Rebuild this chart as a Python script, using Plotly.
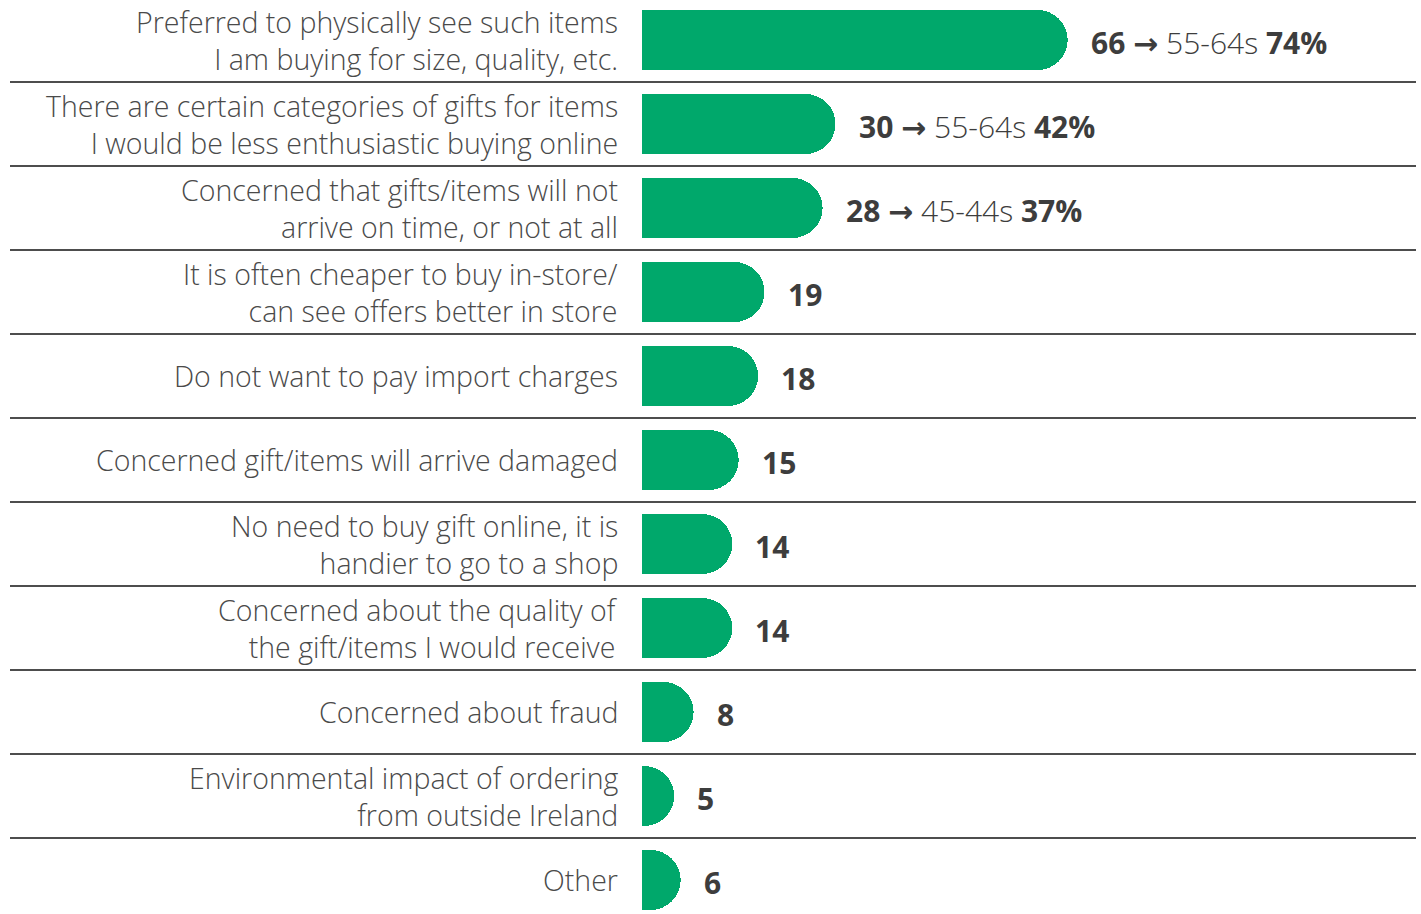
import plotly.graph_objects as go

categories = [
    "Preferred to physically see such items<br>I am buying for size, quality, etc.",
    "There are certain categories of gifts for items<br>I would be less enthusiastic buying online",
    "Concerned that gifts/items will not<br>arrive on time, or not at all",
    "It is often cheaper to buy in-store/<br>can see offers better in store",
    "Do not want to pay import charges",
    "Concerned gift/items will arrive damaged",
    "No need to buy gift online, it is<br>handier to go to a shop",
    "Concerned about the quality of<br>the gift/items I would receive",
    "Concerned about fraud",
    "Environmental impact of ordering<br>from outside Ireland",
    "Other",
]
values = [66, 30, 28, 19, 18, 15, 14, 14, 8, 5, 6]
age_groups = ["55-64s", "55-64s", "45-44s", None, None, None, None, None, None, None, None]
age_pcts = [74, 42, 37, None, None, None, None, None, None, None, None]

GREEN = "#00A86B"
TEXT = "#4a4a4a"
VALTEXT = "#3d3d3d"
FONT = "Open Sans"

positions = list(range(len(categories)))

W, H = 1421, 914
L = 642
plot_w = W - L
px_per_unit = 6.45
row_h = 84.0
first_center = 40.0

fig = go.Figure()
fig.add_trace(go.Bar(
    x=values,
    y=positions,
    orientation="h",
    width=60 / row_h,
    marker=dict(color=GREEN, cornerradius="50%", line=dict(width=0)),
    hoverinfo="skip",
))

annotations = []
for i, (v, ag, pc) in enumerate(zip(values, age_groups, age_pcts)):
    txt = f"<b>{v}</b>"
    if ag is not None:
        txt += (f" <span style='font-family:DejaVu Sans'><b>\u2192</b></span>"
                f" <span style='font-weight:300'>{ag}</span> <b>{pc}%</b>")
    annotations.append(dict(
        x=v, y=i, xref="x", yref="y", text=txt, showarrow=False,
        xanchor="left", yanchor="middle", xshift=22, yshift=-2,
        borderpad=0,
        font=dict(family=FONT, size=30, color=VALTEXT),
    ))

# category labels
for i, cat in enumerate(categories):
    annotations.append(dict(
        x=0, y=i, xref="x", yref="y", text=cat, showarrow=False,
        xanchor="right", yanchor="middle", align="right",
        xshift=-23, yshift=0, borderpad=0,
        font=dict(family=FONT, size=28.5, color=TEXT, weight=300),
    ))

shapes = []
for i in range(len(categories) - 1):
    shapes.append(dict(
        type="line", xref="paper", yref="y",
        x0=(10 - L) / plot_w, x1=(1416 - L) / plot_w, y0=i + 0.5, y1=i + 0.5,
        line=dict(color="#4d4d4d", width=2),
        layer="above",
    ))

fig.update_layout(
    width=W, height=H,
    margin=dict(l=L, r=0, t=0, b=0, pad=0),
    paper_bgcolor="white", plot_bgcolor="white",
    showlegend=False,
    annotations=annotations,
    shapes=shapes,
    xaxis=dict(range=[0, plot_w / px_per_unit], visible=False, fixedrange=True),
    yaxis=dict(
        range=[(H - first_center) / row_h, -first_center / row_h],
        visible=False, fixedrange=True,
    ),
    bargap=0,
)

# remove the default 8px page margin so the figure fills the window exactly
fig.write_html(
    "out.html",
    config={"displayModeBar": False, "staticPlot": True},
    post_script="document.body.style.margin='0';document.body.style.overflow='hidden';",
)
